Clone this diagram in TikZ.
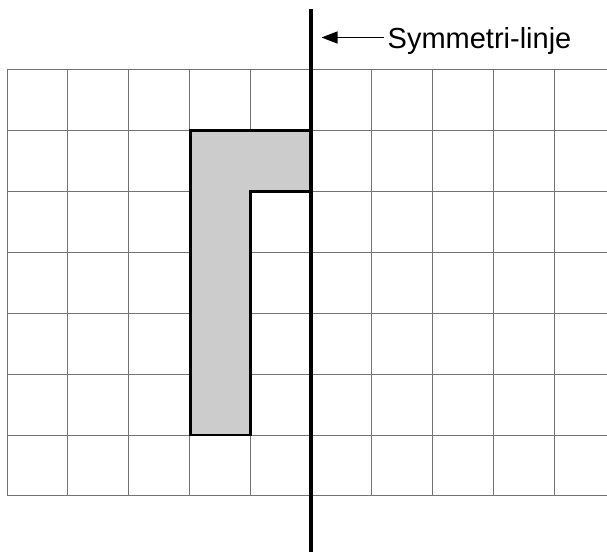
\documentclass[tikz,border=0pt]{standalone}
\usepackage{fontspec}
\setmainfont{Liberation Sans}
\usetikzlibrary{arrows.meta}
\begin{document}
\begin{tikzpicture}[x=1pt,y=-1pt,
  gridline/.style={draw=black!55,line width=0.8pt},
  symline/.style={draw=black,line width=4.2pt},
  figure/.style={draw=black,fill=black!20,line width=2.6pt,line join=miter},
  pointer/.style={draw=black,line width=1.4pt,-{Triangle[length=16pt,width=12pt]}},
  label/.style={font=\fontsize{29}{31}\selectfont,inner sep=0pt,anchor=base west}]
\useasboundingbox (0,0) rectangle (607,552);
% grid
\foreach \k in {0,...,9}{
  \draw[gridline] ({7+60.8*\k},69.5) -- ({7+60.8*\k},495.8);
}
\foreach \j in {0,...,7}{
  \draw[gridline] (7,{69.5+60.9*\j}) -- (607,{69.5+60.9*\j});
}
% figure
\draw[figure] (190.2,130.4) -- (311,130.4) -- (311,191.3) -- (250.6,191.3) -- (250.6,434.9) -- (190.2,434.9) -- cycle;
% symmetry line
\coordinate (top) at (311,9);
\coordinate (bottom) at (311,552);
\draw[symline] (top) -- (bottom);
% label
\node[label] (lbl) at (387.5,48.7) {Symmetri-linje};
\coordinate (tip) at (321.5,37.5);
\draw[pointer] (lbl.west |- tip) ++(-4,0) coordinate (start) (start) -- (tip);
\end{tikzpicture}
\end{document}
